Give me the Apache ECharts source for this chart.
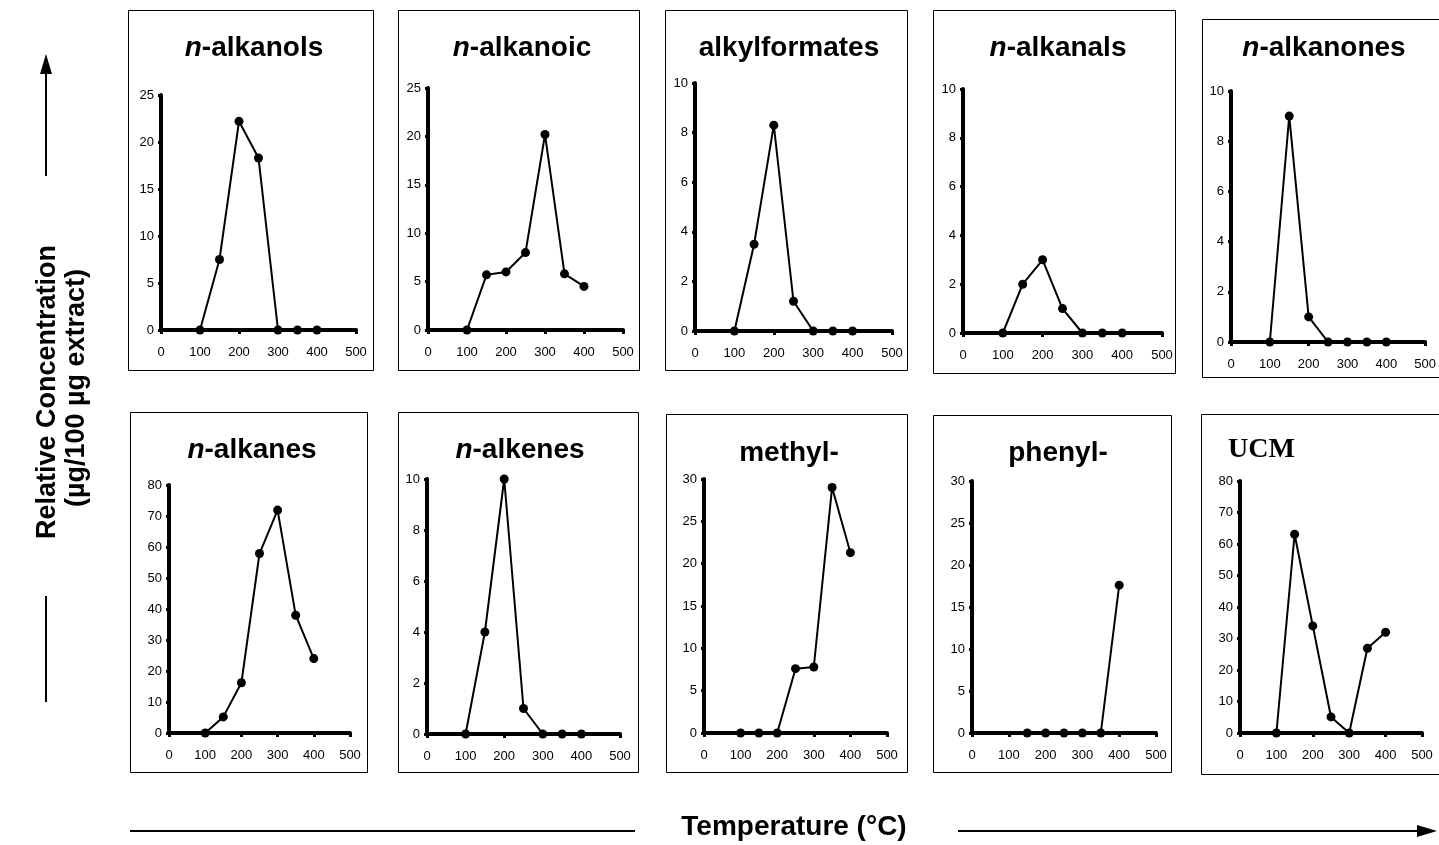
<!DOCTYPE html>
<html>
<head>
<meta charset="utf-8">
<script src="https://cdn.jsdelivr.net/npm/echarts@6/dist/echarts.min.js"></script>
<style>
  html, body { margin: 0; padding: 0; background: #fff; }
  #main { width: 1439px; height: 845px; }
</style>
</head>
<body>
<div id="main"></div>
<script>
// temperatures (°C) and relative concentrations for each compound class
var temps = [100, 150, 200, 250, 300, 350, 400];
var alkanols = [0, 7.5, 22.2, 18.3, 0, 0, 0];
var alkanoic = [0, 5.7, 6.0, 8.0, 20.2, 5.8, 4.5];
var alkylformates = [0, 3.5, 8.3, 1.2, 0, 0, 0];
var alkanals = [0, 2.0, 3.0, 1.0, 0, 0, 0];
var alkanones = [0, 9.0, 1.0, 0, 0, 0, 0];
var alkanes = [0, 5.2, 16.2, 57.9, 71.9, 38, 24];
var alkenes = [0, 4.0, 10.0, 1.0, 0, 0, 0];
var methyl = [0, 0, 0, 7.6, 7.8, 29, 21.3];
var phenyl = [null, 0, 0, 0, 0, 0, 17.6];
var ucm = [0, 63.1, 34, 5.1, 0, 26.9, 32];

var titles = ['{i|n}-alkanols', '{i|n}-alkanoic', 'alkylformates', '{i|n}-alkanals', '{i|n}-alkanones',
              '{i|n}-alkanes', '{i|n}-alkenes', 'methyl-', 'phenyl-', 'UCM'];
var yMax = [25, 25, 10, 10, 10, 80, 10, 30, 30, 80];
var yStep = [5, 5, 2, 2, 2, 10, 2, 5, 5, 10];
var seriesData = [alkanols, alkanoic, alkylformates, alkanals, alkanones,
                  alkanes, alkenes, methyl, phenyl, ucm];

// layout of each panel: plot area [x0, x500, yTop, y0], box [x1, y1, x2, y2], title centre
var plots = [
  [161, 356, 95, 330], [428, 623, 88, 330], [695, 892, 83, 331], [963, 1162, 89, 333], [1231, 1429, 91, 342],
  [169, 350, 485, 733], [427, 620, 479, 734], [704, 887, 479, 733], [972, 1156, 481, 733], [1240, 1422, 481, 733]
];
var boxes = [
  [128, 10, 373, 370], [398, 10, 639, 370], [665, 10, 907, 370], [933, 10, 1175, 373], [1202, 19, 1445, 377],
  [130, 412, 367, 772], [398, 412, 638, 772], [666, 414, 907, 772], [933, 415, 1171, 772], [1201, 414, 1445, 774]
];
var titlePos = [
  [254, 47], [522, 47], [789, 47], [1058, 47], [1324, 47],
  [252, 449], [520, 449], [789, 452], [1058, 452], [1228, 449]
];

var W = 1439, H = 845;
var sans = '"Liberation Sans", Arial, sans-serif';
var chart = echarts.init(document.getElementById('main'));

var grids = [], xAxes = [], yAxes = [], series = [], titleList = [], graphics = [];

for (var i = 0; i < 10; i++) {
  var p = plots[i];
  grids.push({ left: p[0], right: W - p[1], top: p[2], bottom: H - p[3] });

  xAxes.push({
    gridIndex: i, type: 'value', min: 0, max: 500, interval: 100,
    axisLine: { onZero: false, lineStyle: { color: '#000', width: 4 } },
    axisTick: { show: true, length: 4, lineStyle: { color: '#000', width: 3 } },
    axisLabel: { color: '#000', fontSize: 13, fontFamily: sans, margin: 16 },
    splitLine: { show: false }
  });
  yAxes.push({
    gridIndex: i, type: 'value', min: 0, max: yMax[i], interval: yStep[i],
    axisLine: { show: true, lineStyle: { color: '#000', width: 4 } },
    axisTick: { show: true, length: 3, lineStyle: { color: '#000', width: 3 } },
    axisLabel: { color: '#000', fontSize: 13, fontFamily: sans, margin: 7 },
    splitLine: { show: false }
  });

  var vals = seriesData[i];
  var pts = [];
  for (var k = 0; k < temps.length; k++) {
    if (vals[k] !== null) pts.push([temps[k], vals[k]]);
  }
  series.push({
    type: 'line', xAxisIndex: i, yAxisIndex: i, data: pts,
    symbol: 'circle', symbolSize: 9, showAllSymbol: true,
    itemStyle: { color: '#000' },
    lineStyle: { color: '#000', width: 2 },
    z: 5, animation: false
  });

  var isUcm = titles[i] === 'UCM';
  titleList.push({
    text: titles[i],
    left: titlePos[i][0], top: titlePos[i][1] - 13,
    textAlign: isUcm ? 'left' : 'center',
    padding: 0,
    textStyle: {
      color: '#000', fontSize: 28, fontWeight: 'bold',
      fontFamily: isUcm ? '"Liberation Serif", "Times New Roman", serif' : sans,
      rich: { i: { fontStyle: 'italic', fontWeight: 'bold', fontSize: 28, fontFamily: sans, color: '#000' } }
    }
  });

  var b = boxes[i];
  graphics.push({
    type: 'rect', silent: true,
    shape: { x: b[0] + 0.5, y: b[1] + 0.5, width: b[2] - b[0], height: b[3] - b[1] },
    style: { fill: null, stroke: '#000', lineWidth: 1 }
  });
}

// overall axis captions with arrows
graphics.push(
  { type: 'line', shape: { x1: 46, y1: 176, x2: 46, y2: 70 }, style: { stroke: '#000', lineWidth: 2 } },
  { type: 'polygon', shape: { points: [[46, 54], [40, 74], [52, 74]] }, style: { fill: '#000' } },
  { type: 'line', shape: { x1: 46, y1: 596, x2: 46, y2: 702 }, style: { stroke: '#000', lineWidth: 2 } },
  { type: 'text', x: 48, y: 392, rotation: Math.PI / 2,
    style: { text: 'Relative Concentration', font: 'bold 27px ' + sans, fill: '#000', align: 'center', verticalAlign: 'middle' } },
  { type: 'text', x: 77, y: 388, rotation: Math.PI / 2,
    style: { text: '(\u00b5g/100 \u00b5g extract)', font: 'bold 27px ' + sans, fill: '#000', align: 'center', verticalAlign: 'middle' } },
  { type: 'line', shape: { x1: 130, y1: 831, x2: 635, y2: 831 }, style: { stroke: '#000', lineWidth: 2 } },
  { type: 'line', shape: { x1: 958, y1: 831, x2: 1424, y2: 831 }, style: { stroke: '#000', lineWidth: 2 } },
  { type: 'polygon', shape: { points: [[1437, 831], [1417, 825], [1417, 837]] }, style: { fill: '#000' } },
  { type: 'text', x: 794, y: 827,
    style: { text: 'Temperature (\u00b0C)', font: 'bold 28px ' + sans,
             fill: '#000', align: 'center', verticalAlign: 'middle' } }
);

var option = {
  backgroundColor: '#fff',
  animation: false,
  title: titleList,
  grid: grids,
  xAxis: xAxes,
  yAxis: yAxes,
  series: series,
  graphic: graphics
};

chart.setOption(option);
</script>
</body>
</html>
